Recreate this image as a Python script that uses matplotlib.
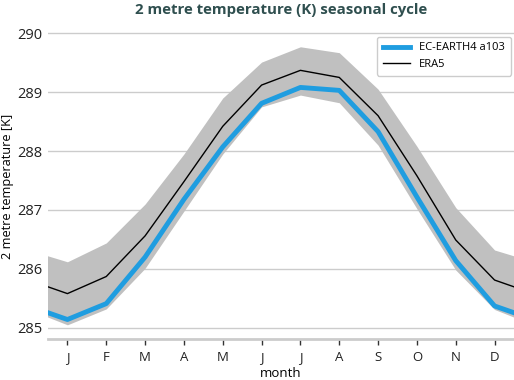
import matplotlib
matplotlib.use('Agg')
import matplotlib.pyplot as plt
import numpy as np

# monthly climatology (K), Jan..Dec
months = ['J', 'F', 'M', 'A', 'M', 'J', 'J', 'A', 'S', 'O', 'N', 'D']
model = [285.14, 285.41, 286.20, 287.18, 288.07, 288.81, 289.08, 289.03, 288.33, 287.22, 286.14, 285.37]
era5 = [285.58, 285.87, 286.56, 287.48, 288.42, 289.12, 289.37, 289.25, 288.60, 287.58, 286.49, 285.81]
band_hi = [286.12, 286.44, 287.10, 287.95, 288.90, 289.51, 289.77, 289.67, 289.05, 288.08, 287.04, 286.32]
band_lo = [285.05, 285.32, 286.01, 286.98, 287.95, 288.75, 288.95, 288.82, 288.10, 287.02, 285.98, 285.31]


def wrap(v):
    # Dec before Jan and Jan after Dec so the cycle runs off both edges
    return np.array([v[-1]] + list(v) + [v[0]])


x = np.arange(0, 14)

plt.rcParams['font.family'] = ['Open Sans', 'DejaVu Sans']
fig = plt.figure(figsize=(5.14, 3.80), dpi=100)
ax = fig.add_axes([0.0934, 0.108, 0.9066, 0.834])

ax.fill_between(x, wrap(band_lo), wrap(band_hi), color='#c0c0c0', linewidth=0, zorder=1)
ax.plot(x, wrap(model), color='#1f9de0', linewidth=3.5, label='EC-EARTH4 a103', zorder=3)
ax.plot(x, wrap(era5), color='black', linewidth=1, label='ERA5', zorder=4)

ax.set_xlim(0.5, 12.5)
ax.set_ylim(284.81, 290.19)
ax.set_xticks(np.arange(1, 13))
ax.set_xticklabels(months)
ax.set_yticks([285, 286, 287, 288, 289, 290])

ax.grid(axis='y', color='#cccccc', linewidth=1, zorder=0)
ax.set_axisbelow(True)
for s in ['left', 'right', 'top']:
    ax.spines[s].set_visible(False)
ax.spines['bottom'].set_color('#cccccc')
ax.spines['bottom'].set_linewidth(2)
ax.tick_params(axis='y', length=0, labelsize=10.5, colors='#222222', pad=4)
ax.tick_params(axis='x', length=4, width=1, color='#333333', labelsize=9.5, colors='#222222', pad=5)

ax.set_xlabel('month', fontsize=9.5, va='center')
ax.xaxis.set_label_coords(0.5, -0.11)
ax.set_ylabel('2 metre temperature [K]', fontsize=9.2, va='center')
ax.yaxis.set_label_coords(-0.087, 0.483)
ax.set_title('2 metre temperature (K) seasonal cycle', fontsize=10.8, fontweight='bold',
             color='#2f4f4f', pad=6)

leg = ax.legend(loc='upper right', fontsize=8, frameon=True, fancybox=True,
                borderpad=0.5, handlelength=2.5, borderaxespad=0,
                bbox_to_anchor=(0.993, 0.953))
leg.get_frame().set_edgecolor('#cccccc')
leg.get_frame().set_alpha(1)

plt.savefig('out.png', dpi=100)
plt.close()
